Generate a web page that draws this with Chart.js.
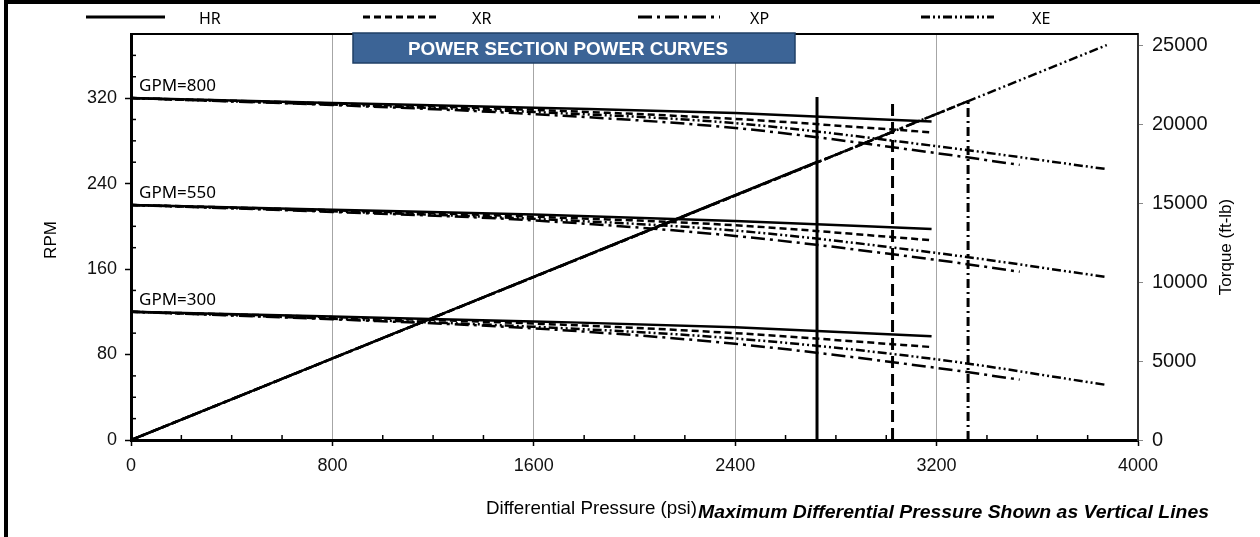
<!DOCTYPE html>
<html>
<head>
<meta charset="utf-8">
<title>Power Section Power Curves</title>
<script src="https://cdn.jsdelivr.net/npm/chart.js@4.4.1/dist/chart.umd.min.js"></script>
<style>
  html, body { margin: 0; padding: 0; background: #fff; }
  #wrap { width: 1260px; height: 537px; }
</style>
</head>
<body>
<div id="wrap"><canvas id="chart" width="1260" height="537"></canvas></div>
<script>
// ---- data ----
const motorNames = ['HR', 'XR', 'XP', 'XE'];
const gpmLabels = ['GPM=800', 'GPM=550', 'GPM=300'];
const rpmTicks = [0, 80, 160, 240, 320];
const torqueTicks = [0, 5000, 10000, 15000, 20000, 25000];

// differential pressure (psi) sample points per motor
const pressHR = [0, 800, 1600, 2400, 3180];
const pressXR = [0, 800, 1600, 2400, 3180];
const pressXP = [0, 800, 1600, 2400, 3200, 3530];
const pressXE = [0, 800, 1600, 2400, 3200, 3876];

// RPM at 800 / 550 / 300 gpm
const rpmHR800 = [320, 315.5, 311, 306, 298];
const rpmHR550 = [220, 215.5, 211, 205, 197.5];
const rpmHR300 = [120, 115.5, 111, 105.5, 97];

const rpmXR800 = [320, 315, 309, 300.5, 288];
const rpmXR550 = [220, 215, 209, 201, 187];
const rpmXR300 = [120, 115, 109, 100, 87];

const rpmXP800 = [320, 313.5, 305, 292, 268.5, 257.5];
const rpmXP550 = [220, 213.5, 205.5, 191, 168.5, 157.5];
const rpmXP300 = [120, 113, 104.5, 90, 67.5, 56.5];

const rpmXE800 = [320, 314, 307, 296.5, 275, 253.5];
const rpmXE550 = [220, 214, 207, 196, 175, 152.5];
const rpmXE300 = [120, 113.5, 106, 95, 75.5, 51.5];

// maximum differential pressure (vertical lines) for HR, XR, XP
const maxPressure = [2725, 3025, 3325];
const maxPressureTop = [321, 316, 319];

// torque lines (right axis), one per motor, from origin to its end
const torquePressure = [2725, 3025, 3325, 3876];
const torqueValue = [17600, 19500, 21450, 25000];

// ---- styles ----
const fontSans = "'Liberation Sans', Arial, sans-serif";
const fontLabel = "'Noto Sans', 'Liberation Sans', sans-serif";
const dash = { HR: [], XR: [7, 4], XP: [14, 5, 3, 5], XE: [9, 3, 2, 3, 2, 3] };
const limitDash = [[], [12, 6], [9, 4, 2, 4]];

function pts(xs, ys) {
    return xs.map((x, i) => ({ x: x, y: ys[i] }));
}

const curveSets = [
    ['HR', pressHR, [rpmHR800, rpmHR550, rpmHR300]],
    ['XR', pressXR, [rpmXR800, rpmXR550, rpmXR300]],
    ['XP', pressXP, [rpmXP800, rpmXP550, rpmXP300]],
    ['XE', pressXE, [rpmXE800, rpmXE550, rpmXE300]]
];

const base = {
    borderColor: '#000',
    borderWidth: 2.5,
    pointRadius: 0,
    fill: false,
    borderCapStyle: 'butt'
};

const datasets = [];
curveSets.forEach(([m, p, sets]) => {
    sets.forEach(r => datasets.push(Object.assign({}, base, {
        label: m, data: pts(p, r), yAxisID: 'y', borderDash: dash[m],
        cubicInterpolationMode: 'monotone'
    })));
});
motorNames.forEach((m, i) => {
    datasets.push(Object.assign({}, base, {
        label: m + ' torque', yAxisID: 'y2', borderDash: dash[m],
        data: [{ x: 0, y: 0 }, { x: torquePressure[i], y: torqueValue[i] }]
    }));
});
maxPressure.forEach((p, i) => {
    datasets.push(Object.assign({}, base, {
        label: motorNames[i] + ' max', yAxisID: 'y', borderDash: limitDash[i], borderWidth: 3,
        data: [{ x: p, y: 0 }, { x: p, y: maxPressureTop[i] }]
    }));
});

function fitText(ctx, text, x, y, w, font) {
    ctx.font = font;
    const m = ctx.measureText(text).width;
    ctx.save();
    ctx.translate(x, y);
    ctx.scale(w / m, 1);
    ctx.fillText(text, 0, 0);
    ctx.restore();
}

const plain = v => String(v);

const decor = {
    id: 'decor',
    beforeDraw(chart) {
        const ctx = chart.ctx;
        ctx.save();
        ctx.fillStyle = '#fff';
        ctx.fillRect(0, 0, chart.width, chart.height);
        ctx.restore();
    },
    afterDraw(chart) {
        const ctx = chart.ctx;
        const a = chart.chartArea;
        const x = chart.scales.x, y = chart.scales.y;
        ctx.save();

        // minor ticks (inside)
        ctx.strokeStyle = '#000';
        ctx.lineWidth = 1.5;
        ctx.setLineDash([]);
        for (let v = 200; v < 4000; v += 200) {
            if (v % 800 === 0) continue;
            const px = x.getPixelForValue(v);
            ctx.beginPath(); ctx.moveTo(px, a.bottom); ctx.lineTo(px, a.bottom - 5); ctx.stroke();
        }
        for (let v = 20; v < 380; v += 20) {
            if (v % 80 === 0) continue;
            const py = y.getPixelForValue(v);
            ctx.beginPath(); ctx.moveTo(a.left, py); ctx.lineTo(a.left + 5, py); ctx.stroke();
        }

        // top edge of plot
        ctx.lineWidth = 2;
        ctx.beginPath(); ctx.moveTo(a.left, a.top); ctx.lineTo(a.right, a.top); ctx.stroke();

        // title box
        ctx.fillStyle = '#3c6496';
        ctx.fillRect(353, 33, 442, 30);
        ctx.strokeStyle = '#1f3f66';
        ctx.lineWidth = 1.5;
        ctx.strokeRect(353, 33, 442, 30);
        ctx.fillStyle = '#fff';
        ctx.textBaseline = 'middle';
        ctx.textAlign = 'left';
        fitText(ctx, 'POWER SECTION POWER CURVES', 408, 50, 320, 'bold 18px ' + fontSans);

        // GPM labels at the start of each HR curve
        ctx.fillStyle = '#000';
        ctx.font = '17px ' + fontLabel;
        [rpmHR800, rpmHR550, rpmHR300].forEach((r, i) => {
            ctx.fillText(gpmLabels[i], a.left + 8, y.getPixelForValue(r[0]) - 12);
        });

        // legend row
        const legLine = [[86, 165], [363, 438], [638, 720], [921, 994]];
        const legText = [199, 472, 750, 1032];
        ctx.lineWidth = 3;
        ctx.strokeStyle = '#000';
        motorNames.forEach((m, i) => {
            ctx.setLineDash(dash[m]);
            ctx.beginPath(); ctx.moveTo(legLine[i][0], 17); ctx.lineTo(legLine[i][1], 17); ctx.stroke();
            ctx.setLineDash([]);
            ctx.font = '16px ' + fontLabel;
            ctx.fillText(m, legText[i], 19);
        });

        // axis titles
        ctx.font = '17px ' + fontSans;
        ctx.textAlign = 'center';
        ctx.save(); ctx.translate(51, 240); ctx.rotate(-Math.PI / 2); ctx.fillText('RPM', 0, 0); ctx.restore();
        ctx.save(); ctx.translate(1226, 247); ctx.rotate(-Math.PI / 2); ctx.fillText('Torque (ft-lb)', 0, 0); ctx.restore();

        ctx.textAlign = 'left';
        ctx.textBaseline = 'alphabetic';
        fitText(ctx, 'Differential Pressure (psi)', 486, 514, 211, '19px ' + fontSans);
        fitText(ctx, 'Maximum Differential Pressure Shown as Vertical Lines', 698, 518, 511, 'italic bold 18px ' + fontSans);

        // outer frame (top and left)
        ctx.fillStyle = '#000';
        ctx.fillRect(4, 0, 4, chart.height);
        ctx.fillRect(4, 0, chart.width - 4, 4);
        ctx.restore();
    }
};

new Chart(document.getElementById('chart').getContext('2d'), {
    type: 'line',
    data: { datasets: datasets },
    options: {
        responsive: false,
        animation: false,
        devicePixelRatio: 1,
        layout: { padding: { top: 34, left: 0, right: 0, bottom: 0 } },
        plugins: { legend: { display: false }, tooltip: { enabled: false } },
        scales: {
            x: {
                type: 'linear', min: 0, max: 4000,
                ticks: { stepSize: 800, autoSkip: false, padding: 9, color: '#111', callback: plain, font: { size: 18, family: fontSans } },
                grid: {
                    color: c => (c.tick && c.tick.value > 0 && c.tick.value < 4000) ? '#a6a6a6' : 'rgba(0,0,0,0)',
                    lineWidth: 1, tickLength: 6, tickColor: '#000', tickWidth: 1.5
                },
                border: { color: '#000', width: 3 },
                afterFit: s => { s.height = 97; }
            },
            y: {
                position: 'left', min: 0, max: 380,
                afterBuildTicks: s => { s.ticks = rpmTicks.map(v => ({ value: v })); },
                ticks: { autoSkip: false, padding: 8, color: '#111', callback: plain, font: { size: 18, family: fontSans } },
                grid: { drawOnChartArea: false, tickLength: 6, tickColor: '#000', tickWidth: 1.5 },
                border: { color: '#000', width: 3 },
                afterFit: s => { s.width = 131; }
            },
            y2: {
                position: 'right', min: 0, max: 25700,
                afterBuildTicks: s => { s.ticks = torqueTicks.map(v => ({ value: v })); },
                ticks: { autoSkip: false, padding: 9, color: '#111', callback: plain, font: { size: 20, family: fontSans } },
                grid: { drawOnChartArea: false, tickLength: 5, tickColor: '#888', tickWidth: 1 },
                border: { color: '#333', width: 2 },
                afterFit: s => { s.width = 122; }
            }
        }
    },
    plugins: [decor]
});
</script>
</body>
</html>
